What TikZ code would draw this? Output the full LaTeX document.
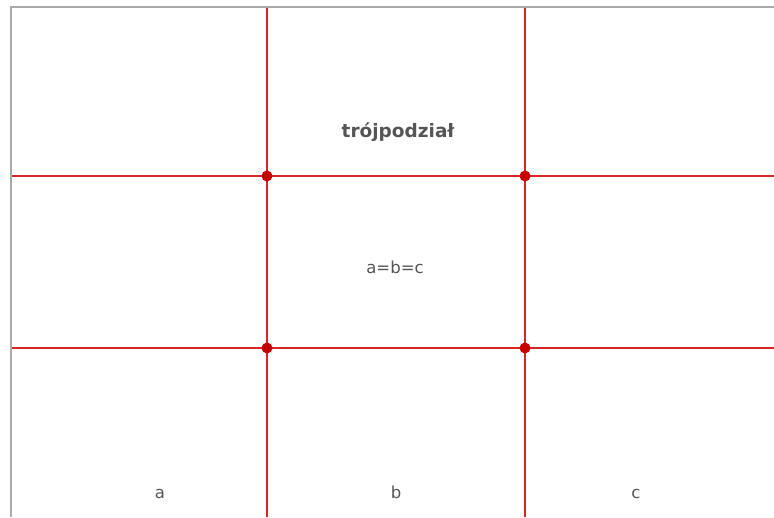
\documentclass[tikz,border=0pt]{standalone}
\usepackage{fontspec}
\setmainfont{DejaVu Sans}
\usetikzlibrary{positioning}
\definecolor{gridred}{RGB}{214,38,38}
\definecolor{dotred}{RGB}{196,0,0}
\definecolor{txtgray}{RGB}{85,85,85}
\definecolor{framegray}{RGB}{170,170,170}

\begin{document}
\begin{tikzpicture}[x=1pt,y=-1pt,font=\fontsize{16.5}{20}\selectfont,
 gridline/.style={draw=gridred,line width=2.4pt},
 crossdot/.style={circle,fill=dotred,inner sep=0pt,minimum size=11pt},
 lbl/.style={text=txtgray,anchor=base}]
\useasboundingbox (0,0) rectangle (774,517);
% frame
\draw[framegray,line width=2pt] (10.5,517) -- (10.5,6.5) -- (774,6.5);
% grid lines
\coordinate (v1t) at (267,7.5);  \coordinate (v1b) at (267,517);
\coordinate (v2t) at (525,7.5);  \coordinate (v2b) at (525,517);
\coordinate (h1l) at (11.5,176); \coordinate (h1r) at (774,176);
\coordinate (h2l) at (11.5,348); \coordinate (h2r) at (774,348);
\draw[gridline] (v1t) -- (v1b);
\draw[gridline] (v2t) -- (v2b);
\draw[gridline] (h1l) -- (h1r);
\draw[gridline] (h2l) -- (h2r);
% intersections
\foreach \x/\y/\n in {267/176/p11,525/176/p12,267/348/p21,525/348/p22}
  \node[crossdot] (\n) at (\x,\y) {};
% labels
\node[lbl,font=\fontsize{18.5}{22}\selectfont\bfseries] (tytul) at (398,137) {trójpodział};
\node[lbl] (rowne) at (395,273) {a=b=c};
\node[lbl] (la) at (160,498) {a};
\node[lbl] (lb) at (396,498) {b};
\node[lbl] (lc) at (636,498) {c};
\end{tikzpicture}
\end{document}
